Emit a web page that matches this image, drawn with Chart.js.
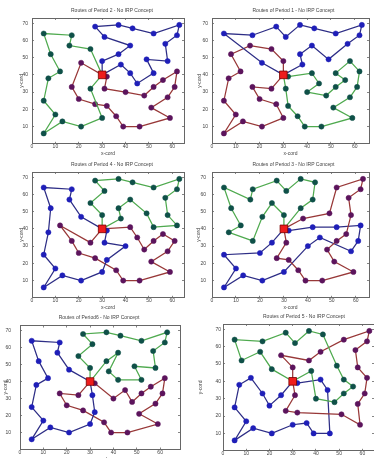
<!DOCTYPE html>
<html>
<head>
<meta charset="utf-8">
<script src="https://cdn.jsdelivr.net/npm/chart.js@4.4.0/dist/chart.umd.min.js"></script>
<style>
  html, body { margin: 0; padding: 0; background: #fff; overflow: hidden; }
  body { width: 374px; height: 458px; position: relative; }
  canvas { position: absolute; }
</style>
</head>
<body>
<script>
// Node coordinates (index 0 is the depot)
const nodeX = [30, 37,49,52,20,40,21,17,31,52,51, 42,31,5,12,36,52,27,17,13,57, 62,42,16,8,7,27,30,43,58,58, 37,38,46,61,62,63,32,45,59,5, 10,21,5,30,39,32,25,25,48,56];
const nodeY = [40, 52,49,64,26,30,47,63,62,33,21, 41,32,25,42,16,41,23,33,13,58, 42,57,57,52,38,68,48,67,48,27, 69,46,10,33,63,69,22,35,15,6, 17,10,64,15,10,39,32,55,28,37];

// Routes per period, as node indices
const p1Blue  = [0,6,43,7,26,8,31,28,3,36,35,20,2,22,1,32,0];
const p1Red   = [0,27,48,23,24,14,25,13,41,40,19,42,44,17,4,18,47,0];
const p1Green = [0,46,11,38,5,49,9,50,16,29,21,34,30,10,39,33,45,15,37,12,0];

const p2Green = [0,48,23,7,43,24,14,25,13,41,40,19,42,44,47,0];
const p2Blue  = [0,27,1,22,8,26,31,28,3,36,35,20,29,2,16,38,11,32,0];
const p2Red   = [0,6,18,4,17,37,15,45,33,39,10,30,34,21,50,9,49,5,12,46,0];

const p3Green = [0,27,48,6,18,25,14,24,43,23,7,26,8,31,28,22,1,0];
const p3Red   = [0,32,2,3,36,35,20,29,50,9,49,10,39,33,45,15,37,17,12,0];
const p3Blue  = [0,46,11,16,21,34,30,38,5,44,42,19,40,41,13,4,47,0];

const p4Blue  = [0,6,23,7,43,24,25,13,41,40,19,42,44,37,5,12,46,0];
const p4Red   = [0,11,38,49,9,50,34,30,10,39,33,45,15,17,4,18,14,47,0];
const p4Green = [0,27,48,8,26,31,28,3,36,35,20,29,21,16,2,22,1,32,0];

const p5Green = [0,6,23,24,43,7,26,8,31,28,2,16,50,9,49,5,32,0];
const p5Red   = [0,27,48,1,22,3,36,35,20,29,21,34,30,39,10,37,17,12,0];
const p5Blue  = [0,46,11,38,33,45,15,44,42,19,40,41,13,25,14,18,4,47,0];

const p6Blue  = [0,6,23,7,43,24,14,25,13,41,40,19,42,44,37,12,0];
const p6Green = [0,27,48,8,26,31,28,3,36,35,20,29,2,16,11,32,22,1,0];
const p6Red   = [0,46,5,38,49,9,50,21,34,30,10,39,33,45,15,17,4,18,47,0];

const xTicks = [0,10,20,30,40,50,60];
const yTicks = [10,20,30,40,50,60,70];
const yMax = 73;

// Colours
const BLUE  = { line: '#2e2e86', mark: '#1f1fb8' };
const GREEN = { line: '#4faa4f', mark: '#0f5048' };
const RED   = { line: '#983838', mark: '#5c145c' };
const FONT = { family: '"Liberation Sans", Arial, sans-serif', size: 5, lineHeight: 1, weight: 'normal' };
const TEXT = '#444';
const AXIS = '#666';

// Panel layout: plot box in page pixels
const panels = [
    { title: 'Routes of Period 2 - No IRP Concept', routes: [[p2Green, GREEN], [p2Blue, BLUE], [p2Red, RED]],
      L: 32, T: 18, R: 184, B: 143, xMax: 65, wy: 13, tickGap: 4, shift: 4 },
    { title: 'Routes of Period 1 - No IRP Concept', routes: [[p1Blue, BLUE], [p1Red, RED], [p1Green, GREEN]],
      L: 212, T: 18, R: 369, B: 143, xMax: 66, wy: 15, tickGap: 4, shift: 3 },
    { title: 'Routes of Period 4 - No IRP Concept', routes: [[p4Blue, BLUE], [p4Red, RED], [p4Green, GREEN]],
      L: 32, T: 172, R: 184, B: 297, xMax: 65, wy: 13, tickGap: 4, shift: 4 },
    { title: 'Routes of Period 3 - No IRP Concept', routes: [[p3Green, GREEN], [p3Red, RED], [p3Blue, BLUE]],
      L: 212, T: 172, R: 369, B: 297, xMax: 65.5, wy: 16, tickGap: 6, shift: 3 },
    { title: 'Routes of Period6 - No IRP Concept', routes: [[p6Blue, BLUE], [p6Green, GREEN], [p6Red, RED]],
      L: 20, T: 324, R: 180, B: 450, xMax: 68.5, wy: 17, tickGap: 9, shift: -1 },
    { title: 'Routes of Period 5 - No IRP Concept', routes: [[p5Green, GREEN], [p5Red, RED], [p5Blue, BLUE]],
      L: 223, T: 324, R: 374, B: 450, xMax: 65, wy: 25, tickGap: 2, shift: 5.5 }
];

const TITLE_H = 12;
const XAXIS_H = 12.2;

function routeDataset(route, color) {
    return {
        data: route.map(i => ({ x: nodeX[i], y: nodeY[i] })),
        showLine: true,
        borderColor: color.line,
        borderWidth: 1.25,
        pointRadius: 2.6,
        pointBackgroundColor: color.mark,
        pointBorderColor: color.mark,
        pointBorderWidth: 0.5
    };
}

function depotDataset() {
    return {
        data: [{ x: nodeX[0], y: nodeY[0] }],
        pointStyle: 'rect',
        pointRadius: 5.4,
        pointBackgroundColor: '#ee1c1c',
        pointBorderColor: '#7a0000',
        pointBorderWidth: 0.8
    };
}

function axisGrid() {
    return { drawOnChartArea: false, tickLength: -2, color: AXIS, lineWidth: 0.8 };
}

function makePanel(p) {
    const wr = p.wy + 2 * p.shift;
    const width = p.wy + (p.R - p.L) + wr;
    const height = TITLE_H + (p.B - p.T) + XAXIS_H;

    const canvas = document.createElement('canvas');
    canvas.width = Math.ceil(width);
    canvas.height = Math.ceil(height);
    canvas.style.left = (p.L - p.wy) + 'px';
    canvas.style.top = (p.T - TITLE_H) + 'px';
    document.body.appendChild(canvas);

    const datasets = [depotDataset()].concat(p.routes.map(r => routeDataset(r[0], r[1])));

    new Chart(canvas.getContext('2d'), {
        type: 'scatter',
        data: { datasets: datasets },
        options: {
            responsive: false,
            animation: false,
            layout: { padding: 0 },
            plugins: {
                legend: { display: false },
                tooltip: { enabled: false },
                title: {
                    display: true,
                    text: p.title,
                    font: FONT,
                    color: TEXT,
                    padding: { top: 2, bottom: 5 }
                }
            },
            scales: {
                x: {
                    type: 'linear', position: 'bottom', min: 0, max: p.xMax,
                    afterBuildTicks: s => { s.ticks = xTicks.map(v => ({ value: v })); },
                    afterFit: s => { s.height = XAXIS_H; },
                    ticks: { font: FONT, color: TEXT, padding: 2.4, maxRotation: 0, autoSkip: false },
                    grid: axisGrid(),
                    border: { color: AXIS, width: 1 },
                    title: { display: true, text: 'x-cord', font: FONT, color: TEXT, padding: 0 }
                },
                y: {
                    type: 'linear', position: 'left', min: 0, max: yMax,
                    afterBuildTicks: s => { s.ticks = yTicks.map(v => ({ value: v })); },
                    afterFit: s => { s.width = p.wy; },
                    ticks: { font: FONT, color: TEXT, padding: p.tickGap + 2, autoSkip: false },
                    grid: axisGrid(),
                    border: { color: AXIS, width: 1 },
                    title: { display: true, text: 'y-cord', font: FONT, color: TEXT, padding: 0 }
                },
                x2: {
                    type: 'linear', position: 'top', min: 0, max: p.xMax,
                    afterBuildTicks: s => { s.ticks = xTicks.map(v => ({ value: v })); },
                    afterFit: s => { s.height = 0; },
                    ticks: { display: false },
                    grid: axisGrid(),
                    border: { color: AXIS, width: 1 }
                },
                y2: {
                    type: 'linear', position: 'right', min: 0, max: yMax,
                    afterBuildTicks: s => { s.ticks = yTicks.map(v => ({ value: v })); },
                    afterFit: s => { s.width = wr; },
                    ticks: { display: false },
                    grid: axisGrid(),
                    border: { color: AXIS, width: 1 }
                }
            }
        }
    });
}

panels.forEach(makePanel);
</script>
</body>
</html>
